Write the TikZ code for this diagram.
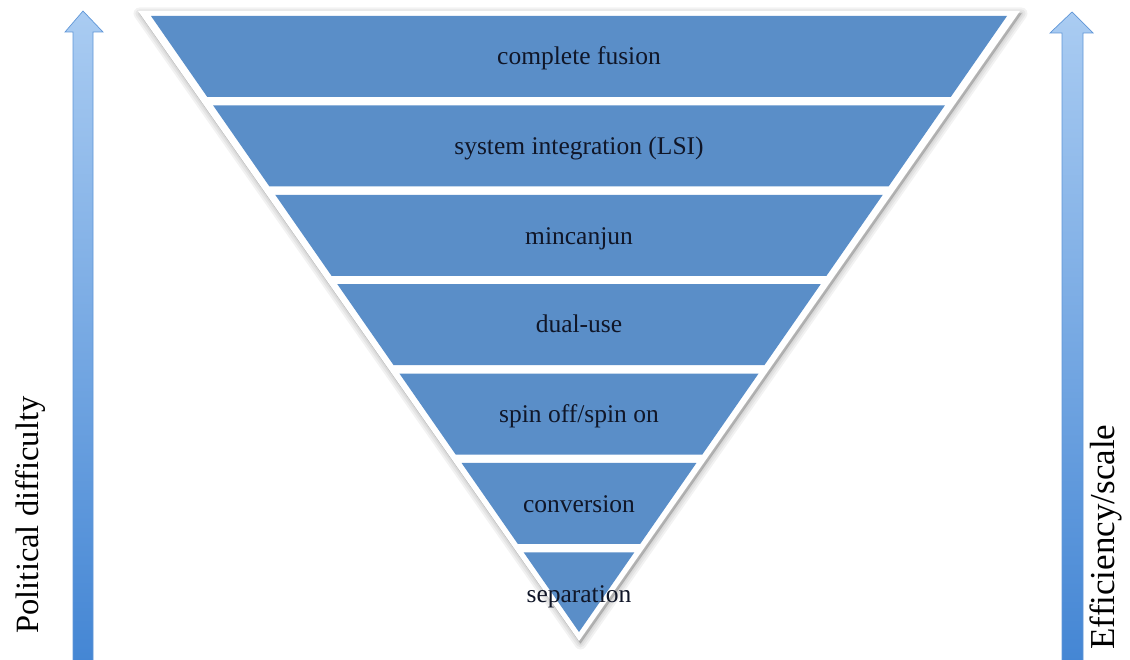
\documentclass[tikz,border=0pt]{standalone}
\usepackage{fontspec}
\setmainfont{Liberation Serif}
\usetikzlibrary{calc}
\definecolor{bandblue}{RGB}{90,142,200}
\definecolor{bandtext}{RGB}{16,22,40}
\definecolor{arrtop}{RGB}{170,204,242}
\definecolor{arrbot}{RGB}{68,134,212}
\definecolor{arredge}{RGB}{95,150,215}
\tikzset{
  levellabel/.style={anchor=base, text=bandtext, font=\fontsize{25.5}{25.5}\selectfont, inner sep=0pt},
  sidelabel/.style={anchor=base, rotate=90, text=black, inner sep=0pt},
  uparrow/.style={top color=arrtop, bottom color=arrbot, draw=arredge, line width=0.7pt, line join=miter},
  tshadow/.style={black, opacity=0.05, line join=round},
}
\begin{document}
\begin{tikzpicture}[x=1pt,y=-1pt]
\useasboundingbox (0,0) rectangle (1130,660);

% soft shadow and white frame of the funnel
\foreach \w in {12,8,4,1}
  \filldraw[tshadow, line width=\w pt, shift={(1.5,2.5)}] (138,11) -- (1020,11) -- (579,641) -- cycle;
\fill[white] (138,11) -- (1020,11) -- (579,641) -- cycle;

% corners of the blue funnel
\coordinate (BL) at (151,16);
\coordinate (BR) at (1007,16);
\coordinate (BA) at (579,632);

% seven stacked bands
\foreach \i in {0,...,6} {
  \pgfmathsetmacro\ta{89.4*\i/616}
  \pgfmathsetmacro\tb{min(1,(89.4*\i+81)/616)}
  \fill[bandblue] ($(BL)!\ta!(BA)$) -- ($(BR)!\ta!(BA)$) -- ($(BR)!\tb!(BA)$) -- ($(BL)!\tb!(BA)$) -- cycle;
}

% band labels
\node[levellabel] (l1) at (579,65)  {complete fusion};
\node[levellabel] (l2) at (579,155)   {system integration (LSI)};
\node[levellabel] (l3) at (579,244.5) {mincanjun};
\node[levellabel] (l4) at (579,333) {dual-use};
\node[levellabel] (l5) at (579,422.5)   {spin off/spin on};
\node[levellabel] (l6) at (579,512) {conversion};
\node[levellabel] (l7) at (579,602)   {separation};

% side arrows
\path[uparrow] (83,11) -- (103,32) -- (93,32) -- (93,662) -- (73,662) -- (73,32) -- (65,32) -- cycle;
\path[uparrow] (1072,12) -- (1093,33) -- (1083,33) -- (1083,662) -- (1062,662) -- (1062,33) -- (1050,33) -- cycle;

% side labels
\node[sidelabel, font=\fontsize{32.5}{32.5}\selectfont] (pd) at (38,515)   {Political difficulty};
\node[sidelabel, font=\fontsize{35}{35}\selectfont] (es) at (1114,537) {Efficiency/scale};
\end{tikzpicture}
\end{document}
